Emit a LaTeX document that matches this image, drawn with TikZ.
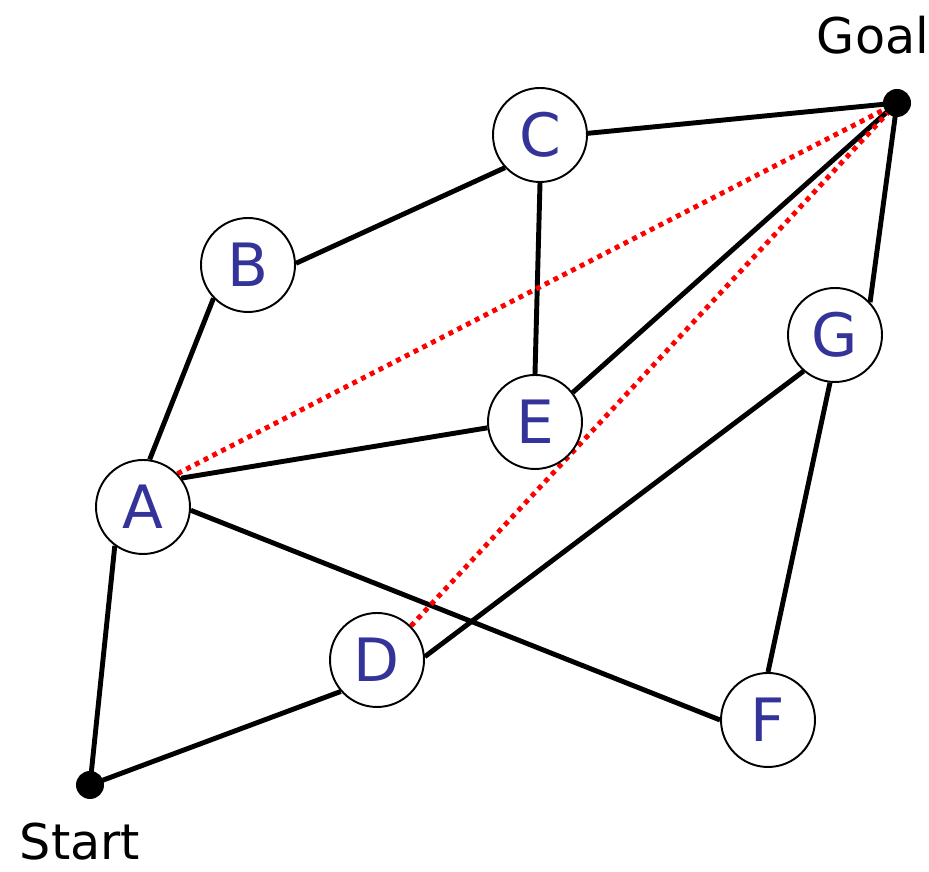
\documentclass[tikz,border=0pt]{standalone}
\usepackage{fontspec}
\setmainfont{DejaVu Sans}
\usepackage{tikz}
\usetikzlibrary{backgrounds}
\definecolor{lblue}{RGB}{51,51,153}

\begin{document}
\begin{tikzpicture}[
  state/.style={circle, draw, line width=1.1pt, fill=white, minimum size=1.88cm, inner sep=0pt, font=\fontsize{34}{34}\selectfont, text=lblue},
  term/.style={circle, fill=black, minimum size=0.56cm, inner sep=0pt},
  tlbl/.style={font=\fontsize{28}{28}\selectfont},
  edge/.style={line width=2.8pt},
  hint/.style={line width=2.8pt, red, dash pattern=on 2.8pt off 2.8pt},
]
\useasboundingbox (0,0) rectangle (18.58,17.44);
% Start and goal
\node[term] (start) at (1.8,1.74) {};
\node[term] (goal) at (17.94,15.38) {};
\node[tlbl] (startlbl) at (1.6,0.6) {Start};
\node[tlbl] (goallbl) at (17.46,16.74) {Goal};
% States
\node[state] (A) at (2.86,7.3) {A};
\node[state] (B) at (4.96,12.14) {B};
\node[state] (C) at (10.8,14.74) {C};
\node[state] (D) at (7.54,4.24) {D};
\node[state] (E) at (10.7,9.0) {E};
\node[state] (F) at (15.36,3.04) {F};
\node[state] (G) at (16.7,10.74) {G};

% Connections
\begin{scope}[on background layer]
\draw[edge] (start.center) -- (A.234);
\draw[edge] (start.center) -- (D.221);
\draw[edge] (A.82) -- (B.224);
\draw[edge] (B.2) -- (C.223);
\draw[edge] (C.2) -- (goal.center);
\draw[edge] (C.270) -- (E.90);
\draw[edge] (A.37) -- (E.187);
\draw[edge] (E.38) -- (goal.center);
\draw[edge] (A.356) -- (F.180);
\draw[edge] (D.4) -- (G.229);
\draw[edge] (G.43) -- (goal.center);
\draw[edge] (G.264) -- (F.90);
% Straight-line estimates
\draw[hint] (A.44) -- (goal.center);
\draw[hint] (D.45) -- (goal.center);
\end{scope}
\end{tikzpicture}
\end{document}
